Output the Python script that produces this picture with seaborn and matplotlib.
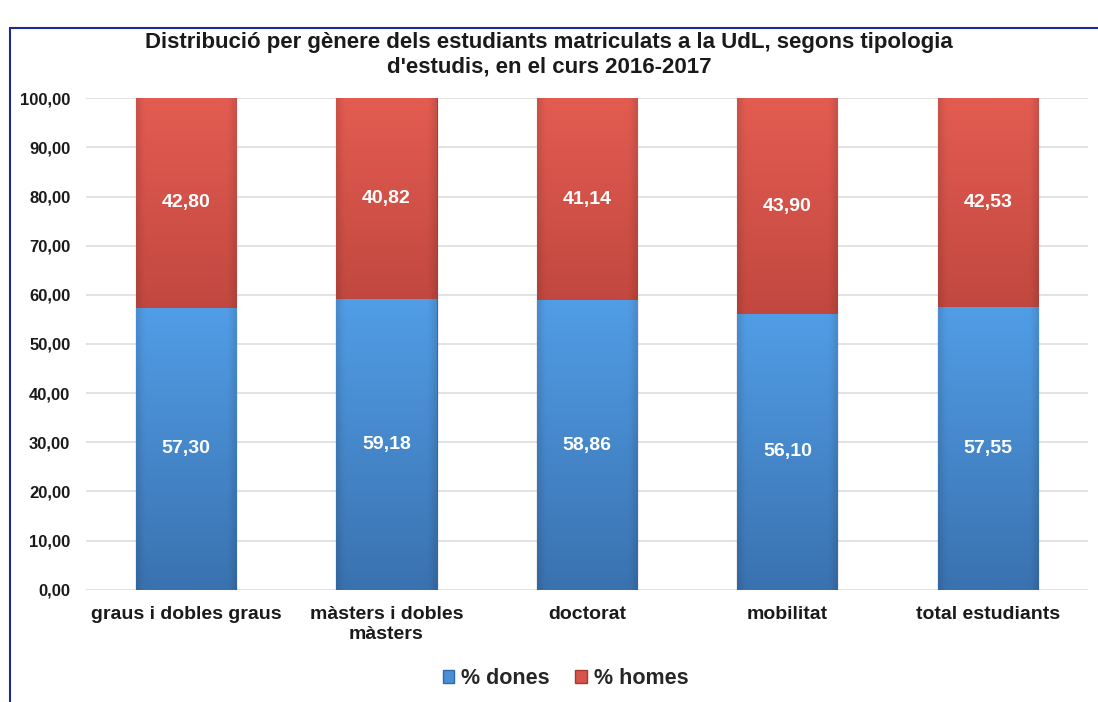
import matplotlib
matplotlib.use("Agg")
import matplotlib.pyplot as plt
import seaborn as sns
import pandas as pd
import numpy as np
from matplotlib.patches import Rectangle, Patch
from matplotlib.colors import to_rgb

categories = ["graus i dobles graus", "màsters i dobles\nmàsters", "doctorat", "mobilitat", "total estudiants"]
dones = [57.30, 59.18, 58.86, 56.10, 57.55]
homes = [42.80, 40.82, 41.14, 43.90, 42.53]
yticks = [0, 10, 20, 30, 40, 50, 60, 70, 80, 90, 100]

sns.set_theme(style="white")
plt.rcParams['font.family'] = ['Liberation Sans', 'DejaVu Sans']

blue = "#4a8fd6"
red = "#d8544a"
blue_top, blue_bot = "#519de6", "#3a72b0"
red_top, red_bot = "#e35c52", "#c2483f"

fig = plt.figure(figsize=(10.98, 7.02), dpi=100)
ax = fig.add_axes([0.078, 0.16, 0.913, 0.70])

df = pd.DataFrame({"cat": categories, "dones": dones, "homes": homes})
df["total"] = df["dones"] + df["homes"]

sns.barplot(data=df, x="cat", y="total", color=red, width=0.5, saturation=1,
            edgecolor="#a8392f", linewidth=0.8, ax=ax, zorder=2)
n_red = len(ax.patches)
sns.barplot(data=df, x="cat", y="dones", color=blue, width=0.5, saturation=1,
            edgecolor="#2f6aa8", linewidth=0.8, ax=ax, zorder=3)

ax.set_ylim(0, 100)
ax.set_xlim(-0.5, 4.5)


def grad(patch, ylo, yhi, ctop, cbot, z):
    x0 = patch.get_x()
    w = patch.get_width()
    t = np.linspace(1, 0, 64)[:, None, None]
    c1 = np.array(to_rgb(ctop))
    c2 = np.array(to_rgb(cbot))
    col = t * c1 + (1 - t) * c2
    xs = np.linspace(-1, 1, 32)
    shade = 1 - 0.10 * np.clip(np.abs(xs) - 0.85, 0, None) / 0.15
    img = np.repeat(col, 32, axis=1) * shade[None, :, None]
    im = ax.imshow(img, extent=(x0, x0 + w, ylo, yhi), aspect="auto", zorder=z,
                   interpolation="bilinear", origin="upper")
    im.set_clip_path(patch)


patches = list(ax.patches)
for i, p in enumerate(patches[:n_red]):
    grad(p, dones[i], 100, red_top, red_bot, 2.5)
for i, p in enumerate(patches[n_red:]):
    grad(p, 0, dones[i], blue_top, blue_bot, 3.5)

ax.set_xlim(-0.5, 4.5)
ax.set_ylim(0, 100)

for i, (d, h) in enumerate(zip(dones, homes)):
    ax.text(i, d / 2, f"{d:.2f}".replace(".", ","), ha="center", va="center",
            color="white", fontsize=14, fontweight="bold", zorder=5)
    ax.text(i, d + h / 2, f"{h:.2f}".replace(".", ","), ha="center", va="center",
            color="white", fontsize=14, fontweight="bold", zorder=5)

ax.set_yticks(yticks)
ax.set_yticklabels([f"{v:.2f}".replace(".", ",") for v in yticks], fontsize=12, fontweight="bold", color="#1a1a1a")
ax.set_xticks(range(len(categories)))
ax.set_xticklabels(categories, fontsize=14, fontweight="bold", color="#1a1a1a", linespacing=1.2)
ax.tick_params(axis="x", length=0, pad=12)
ax.tick_params(axis="y", length=0, pad=11)
ax.set_xlabel("")
ax.set_ylabel("")
ax.yaxis.grid(True, color="#dedede", linewidth=1.2, zorder=0)
ax.set_axisbelow(True)
for s in ax.spines.values():
    s.set_visible(False)

fig.suptitle("Distribució per gènere dels estudiants matriculats a la UdL, segons tipologia\nd'estudis, en el curs 2016-2017",
             y=1 - 55 / 702, va="center", fontsize=16, fontweight="bold", color="#1a1a1a", linespacing=1.2)

handles = [Patch(facecolor=blue, edgecolor="#2f6aa8"), Patch(facecolor=red, edgecolor="#a8392f")]
fig.legend(handles, ["% dones", "% homes"], loc="center", bbox_to_anchor=(0.515, 0.034), ncol=2,
           frameon=False, prop={"weight": "bold", "size": 15.5}, handlelength=0.55, handleheight=0.55,
           handletextpad=0.3, columnspacing=1.2)

fig.patches.append(Rectangle((0.009, -0.01), 1.0, 0.97, transform=fig.transFigure,
                             fill=False, edgecolor="#1a2a9a", linewidth=1.5, zorder=10))

fig.savefig("out.png", dpi=100)
